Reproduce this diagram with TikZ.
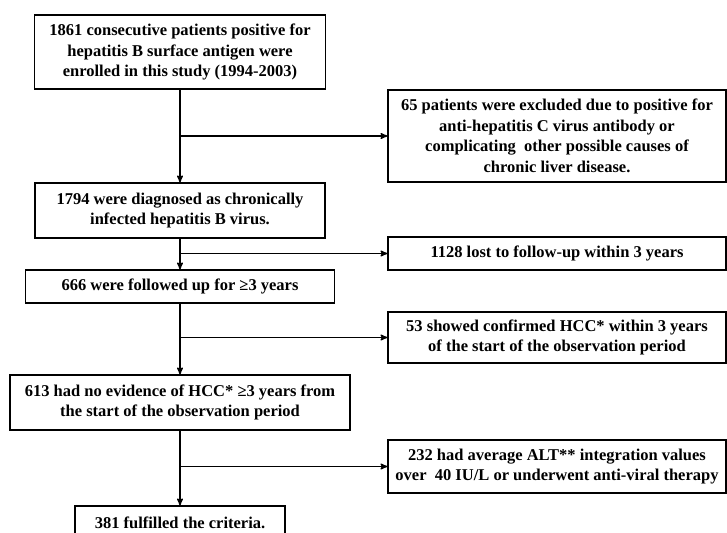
\documentclass[tikz,border=0pt]{standalone}
\usepackage{fontspec}
\setmainfont{Liberation Serif}
\usetikzlibrary{arrows}

\begin{document}
\begin{tikzpicture}[->,>=stealth',node distance=158.5pt,line width=1.4pt,
  box/.style={draw,line width=1.1pt,inner sep=0pt,align=center,
    font=\bfseries\fontsize{16.5}{20.5}\selectfont}]
\useasboundingbox (0,0) rectangle (727pt,-532pt);

\node (n0) [box,minimum width=291pt,minimum height=74pt] at (180pt,-52pt)
  {1861 consecutive patients positive for\\hepatitis B surface antigen were\\enrolled in this study (1994-2003)};
\node (n1) [box,below of=n0,minimum width=290pt,minimum height=55pt]
  {1794 were diagnosed as chronically\\infected hepatitis B virus.};
\node (n2) [box,below of=n1,node distance=76pt,minimum width=309pt,minimum height=33pt]
  {666 were followed up for ≥3 years};
\node (n3) [box,below of=n2,node distance=116pt,minimum width=340pt,minimum height=55pt]
  {613 had no evidence of HCC* ≥3 years from\\the start of the observation period};
\node (n4) [box,below of=n3,node distance=120pt,minimum width=210pt,minimum height=33pt]
  {381 fulfilled the criteria.};

\node (r0) [box,right of=n0,node distance=377pt,yshift=-84pt,minimum width=338pt,minimum height=92pt]
  {65 patients were excluded due to positive for\\anti-hepatitis C virus antibody or\\complicating~ other possible causes of\\chronic liver disease.};
\node (r1) [box,right of=n1,node distance=377pt,yshift=-43pt,minimum width=338pt,minimum height=33pt]
  {1128 lost to follow-up within 3 years};
\node (r2) [box,right of=n2,node distance=377pt,yshift=-51pt,minimum width=338pt,minimum height=51pt]
  {53 showed confirmed HCC* within 3 years\\of the start of the observation period};
\node (r3) [box,right of=n3,node distance=377pt,yshift=-64pt,minimum width=338pt,minimum height=53pt]
  {232 had average ALT** integration values\\over~ 40 IU/L or underwent anti-viral therapy};

\coordinate (b0) at (n0.south |- r0.west);
\coordinate (b1) at (n1.south |- r1.west);
\coordinate (b2) at (n2.south |- r2.west);
\coordinate (b3) at (n3.south |- r3.west);

\path[->] (n0) edge (n1);
\path[->] (n1) edge (n2);
\path[->] (n2) edge (n3);
\path[->] (n3) edge (n4);
\path[->] (b0) edge (r0);
\path[->] (b1) edge (r1);
\path[->] (b2) edge (r2);
\path[->] (b3) edge (r3);
\end{tikzpicture}
\end{document}
